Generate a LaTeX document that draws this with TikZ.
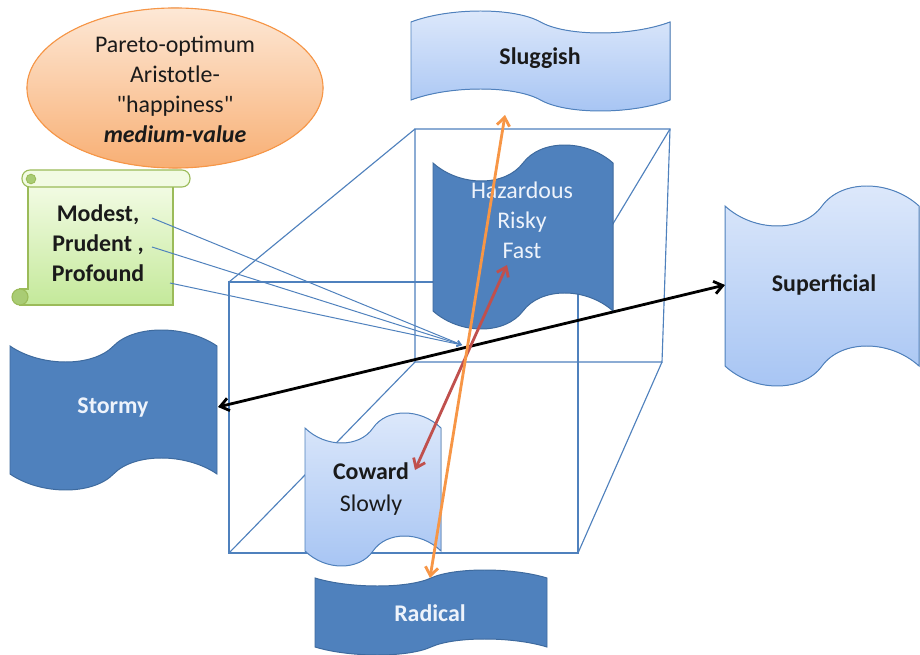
\documentclass[tikz,border=0pt]{standalone}
\usepackage{fontspec}
\setmainfont{Carlito}
\usetikzlibrary{arrows.meta}
\definecolor{obl}{HTML}{4F81BD}
\definecolor{obldk}{HTML}{3E6A9E}
\definecolor{lbtop}{HTML}{DEE9FB}
\definecolor{lbbot}{HTML}{A6C4F3}
\definecolor{orarr}{HTML}{F79646}
\definecolor{redarr}{HTML}{C0504D}
\definecolor{ortop}{HTML}{FDE8D6}
\definecolor{orbot}{HTML}{F8AF74}
\definecolor{grtop}{HTML}{F2FBE3}
\definecolor{grbot}{HTML}{C4E99A}
\definecolor{grline}{HTML}{9BBB59}
\definecolor{grdark}{HTML}{A9CC74}
\definecolor{txtdk}{HTML}{1A1A1A}
\definecolor{txtlt}{HTML}{EEF3FB}
% #1 style, #2 x0, #3 x1, #4 ytop, #5 ybot, #6 signed amplitude
\newcommand\mywave[6]{%
  \pgfmathsetmacro\wvW{#3-#2}%
  \pgfmathsetmacro\wvM{#2+\wvW/2}%
  \pgfmathsetmacro\wvA{#2+0.15*\wvW}%
  \pgfmathsetmacro\wvB{\wvM-0.1*\wvW}%
  \pgfmathsetmacro\wvC{\wvM+0.1*\wvW}%
  \pgfmathsetmacro\wvD{#3-0.15*\wvW}%
  \pgfmathsetmacro\wvH{1.333*#6}%
  \pgfmathsetmacro\wvtP{#4+\wvH}\pgfmathsetmacro\wvtM{#4-\wvH}%
  \pgfmathsetmacro\wvbP{#5+\wvH}\pgfmathsetmacro\wvbM{#5-\wvH}%
  \filldraw[#1] (#2,#4) .. controls (\wvA,\wvtP) and (\wvB,\wvtP) .. (\wvM,#4)
     .. controls (\wvC,\wvtM) and (\wvD,\wvtM) .. (#3,#4) -- (#3,#5)
     .. controls (\wvD,\wvbM) and (\wvC,\wvbM) .. (\wvM,#5)
     .. controls (\wvB,\wvbP) and (\wvA,\wvbP) .. (#2,#5) -- cycle;
}
\tikzset{
  lightshape/.style={draw=obl, line width=0.7pt, top color=lbtop, bottom color=lbbot},
  darkshape/.style={draw=obldk, line width=0.7pt, fill=obl},
  cube/.style={draw=obl, line width=0.8pt},
  txt/.style={font=\fontsize{17}{21.3}\selectfont, align=center, inner sep=0pt, text=txtdk},
  txtw/.style={txt, text=txtlt},
  dblarr/.style={line width=2pt, {Straight Barb[length=6pt,width=9pt]}-{Straight Barb[length=6pt,width=9pt]}},
  thin arr/.style={draw=obl, line width=0.7pt, -{Straight Barb[length=3pt,width=4pt]}},
}
\begin{document}
\begin{tikzpicture}[x=0.025cm, y=-0.025cm]
\useasboundingbox (0,0) rectangle (920,655);
\fill[white] (0,0) rectangle (920,655);

% cube
\draw[cube] (415,129) -- (670,129) -- (662,362) -- (415,362) -- cycle;
\draw[cube] (229,282) rectangle (578,553);
\draw[cube] (229,282) -- (415,129);
\draw[cube] (578,282) -- (670,129);
\draw[cube] (229,553) -- (415,362);
\draw[cube] (578,553) -- (662,362);

% ellipse
\filldraw[draw=orarr, line width=0.8pt, top color=ortop, bottom color=orbot]
  (175,88) ellipse [x radius=3.7cm, y radius=2cm];
\node[txt] (par) at (175,89) {Pareto-optimum\\Aristotle-\\\textquotedbl happiness\textquotedbl\\\textbf{\textit{medium-value}}};

% scroll
\filldraw[draw=grline, line width=0.8pt, top color=grtop, bottom color=grbot]
  (28,186) -- (173,186) -- (173,305) -- (20,305) -- (20,289) -- (28,289) -- cycle;
\filldraw[draw=grline, line width=0.8pt, fill=grdark] (20,297) circle [radius=0.2cm];
\filldraw[draw=grline, line width=0.8pt, fill=grtop, rounded corners=0.2cm] (22,170) rectangle (190,187);
\filldraw[draw=grline, line width=0.6pt, fill=grdark] (31,179) circle [radius=0.12cm];
\node[txt, font=\fontsize{17}{21.3}\selectfont\bfseries] (mod) at (98,243) {Modest,\\Prudent ,\\Profound};

% wave shapes
\mywave{lightshape}{411}{670}{22}{100}{-11}
\node[txt, font=\fontsize{17}{21.3}\selectfont\bfseries] (slug) at (540,58) {Sluggish};

\mywave{darkshape}{433}{613}{163}{311}{18}
\node[txtw] (haz) at (522,220) {Hazardous\\Risky\\Fast};

\mywave{lightshape}{725}{919}{206}{366}{20}
\node[txt, font=\fontsize{17}{21.3}\selectfont\bfseries] (sup) at (824,285) {Superficial};

\mywave{darkshape}{10}{217}{346}{474}{16}
\node[txtw, font=\fontsize{17}{21.3}\selectfont\bfseries] (storm) at (113,408) {Stormy};

\mywave{lightshape}{305}{441}{428}{551}{15}
\node[txt] (cow) at (371,489) {\textbf{Coward}\\[1.5pt]Slowly};

\mywave{darkshape}{315}{547}{578}{647}{8}
\node[txtw, font=\fontsize{17}{21.3}\selectfont\bfseries] (rad) at (430,613) {Radical};

% connectors
\coordinate (c) at (467,347);
\coordinate (m1) at (152,218);
\coordinate (m2) at (152,247);
\coordinate (m3) at (170,283);
\coordinate (tgt) at (462,345);
\coordinate (stR) at (218,407);
\coordinate (suL) at (725,285);
\coordinate (slB) at (505,115);
\coordinate (raT) at (430,578);
\coordinate (faB) at (507,265);
\coordinate (coR) at (415,470);

\draw[thin arr] (m1) -- (tgt);
\draw[thin arr] (m2) -- (tgt);
\draw[thin arr] (m3) -- (tgt);

\draw[dblarr, draw=black] (stR) -- (suL);
\draw[dblarr, draw=redarr] (faB) -- (coR);
\draw[dblarr, draw=orarr] (slB) -- (raT);
\end{tikzpicture}
\end{document}
